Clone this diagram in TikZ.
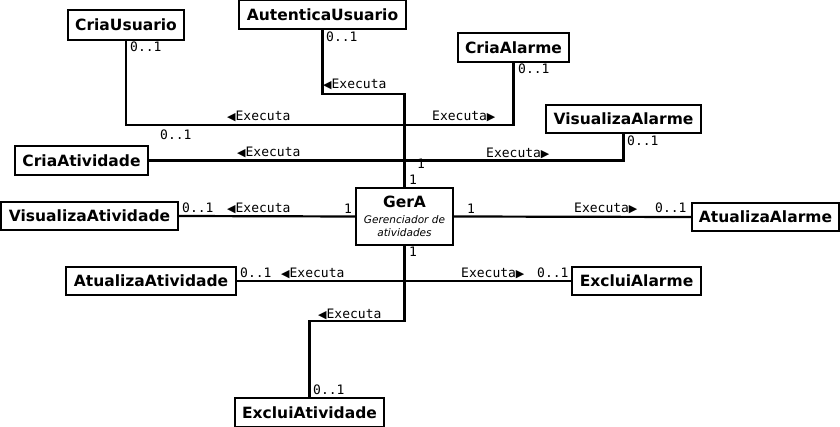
\documentclass[tikz,border=0pt]{standalone}
\usepackage{fontspec}
\setmainfont{DejaVu Sans}
\newfontfamily\monof{DejaVu Sans Mono}
\newfontfamily\symf{DejaVu Sans}
\newcommand\ltri{{\symf\fontsize{11}{11}\selectfont ◀}}
\newcommand\rtri{{\symf\fontsize{11}{11}\selectfont ▶}}
\newcommand\subf{\mdseries\itshape\fontsize{10.5}{12.5}\selectfont}
\begin{document}
\begin{tikzpicture}[x=1pt,y=-1pt,
  cls/.style={draw, line width=2pt, fill=white, inner sep=0pt,
    font=\bfseries\fontsize{15.5}{18}\selectfont},
  lbl/.style={anchor=base west, inner sep=0pt, font=\monof\fontsize{13}{14}\selectfont},
  conn/.style={line width=2.2pt}]
\useasboundingbox (0,0) rectangle (840,427);

% classes
\node[cls, minimum width=116pt, minimum height=30pt] (CriaUsuario) at (126,25) {CriaUsuario};
\node[cls, minimum width=167pt, minimum height=29pt] (AutenticaUsuario) at (322.5,14.5) {AutenticaUsuario};
\node[cls, minimum width=111pt, minimum height=29pt] (CriaAlarme) at (513.5,47.5) {CriaAlarme};
\node[cls, minimum width=155pt, minimum height=28pt] (VisualizaAlarme) at (623.5,119) {VisualizaAlarme};
\node[cls, minimum width=133pt, minimum height=29pt] (CriaAtividade) at (81.5,160.5) {CriaAtividade};
\node[cls, minimum width=177pt, minimum height=28pt] (VisualizaAtividade) at (89.5,216) {VisualizaAtividade};
\node[cls, minimum width=97pt, minimum height=57pt, align=center] (GerA) at (404.5,216.5)
  {GerA\\[-2pt]\subf Gerenciador de\\[-5pt]\subf atividades};
\node[cls, minimum width=147pt, minimum height=28pt] (AtualizaAlarme) at (765.5,217) {AtualizaAlarme};
\node[cls, minimum width=170pt, minimum height=28pt] (AtualizaAtividade) at (151,281) {AtualizaAtividade};
\node[cls, minimum width=129pt, minimum height=28pt] (ExcluiAlarme) at (636.5,281) {ExcluiAlarme};
\node[cls, minimum width=149pt, minimum height=29pt] (ExcluiAtividade) at (309.5,412.5) {ExcluiAtividade};

% junction points on the trunk
\coordinate (ta) at (404.5,94);
\coordinate (tu) at (404.5,125);
\coordinate (tv) at (404.5,160.5);
\coordinate (tb) at (404.5,281);
\coordinate (te) at (404.5,321);

% connectors
\draw[conn] (AutenticaUsuario.south) |- (ta) -- (GerA.north);
\draw[conn] (CriaUsuario.south) |- (tu);
\draw[conn] (CriaAlarme.south) |- (tu);
\draw[conn] (CriaAtividade.east) -- (tv);
\draw[conn] (VisualizaAlarme.south) |- (tv);
\draw[conn] (VisualizaAtividade.east) -- (GerA.west);
\draw[conn] (GerA.east) -- (AtualizaAlarme.west);
\draw[conn] (AtualizaAtividade.east) -- (tb);
\draw[conn] (ExcluiAlarme.west) -- (tb);
\draw[conn] (GerA.south) -- (te) -| (ExcluiAtividade.north);

% labels
\node[lbl] (l1) at (130,52) {0..1};
\node[lbl] (l2) at (326,42) {0..1};
\node[lbl] (l3) at (323,89) {\ltri Executa};
\node[lbl] (l4) at (227,121) {\ltri Executa};
\node[lbl] (l5) at (160,140) {0..1};
\node[lbl] (l6) at (237,157) {\ltri Executa};
\node[lbl] (l7) at (432,121) {Executa\rtri};
\node[lbl] (l8) at (518,74) {0..1};
\node[lbl] (l9) at (627,146) {0..1};
\node[lbl] (l10) at (486,158) {Executa\rtri};
\node[lbl] (l11) at (417,169) {1};
\node[lbl] (l12) at (409,185) {1};
\node[lbl] (l13) at (344,214) {1};
\node[lbl] (l14) at (467,214) {1};
\node[lbl] (l15) at (409,257) {1};
\node[lbl] (l16) at (182,213) {0..1};
\node[lbl] (l17) at (227,213) {\ltri Executa};
\node[lbl] (l18) at (574,213) {Executa\rtri};
\node[lbl] (l19) at (655,213) {0..1};
\node[lbl] (l20) at (240,278) {0..1};
\node[lbl] (l21) at (281,278) {\ltri Executa};
\node[lbl] (l22) at (461,278) {Executa\rtri};
\node[lbl] (l23) at (537,278) {0..1};
\node[lbl] (l24) at (318,319) {\ltri Executa};
\node[lbl] (l25) at (313,394) {0..1};
\end{tikzpicture}
\end{document}
